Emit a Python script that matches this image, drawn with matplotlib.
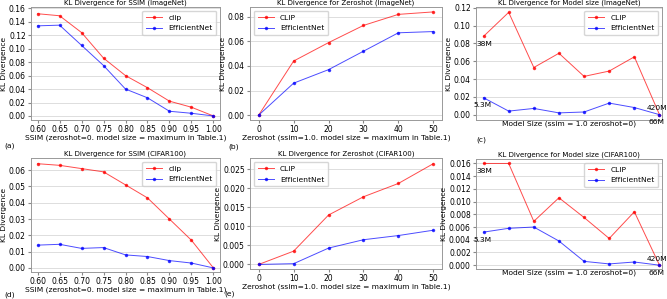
import matplotlib
matplotlib.use("Agg")
import matplotlib.pyplot as plt

# data
ssim = [0.60, 0.65, 0.70, 0.75, 0.80, 0.85, 0.90, 0.95, 1.00]
zeroshot = [0, 10, 20, 30, 40, 50]
model_idx = list(range(8))

ssim_in_clip = [0.152, 0.149, 0.124, 0.086, 0.060, 0.042, 0.022, 0.013, 0.000]
ssim_in_eff = [0.134, 0.135, 0.105, 0.075, 0.040, 0.027, 0.007, 0.004, 0.000]

zs_in_clip = [0.000, 0.044, 0.059, 0.073, 0.082, 0.084]
zs_in_eff = [0.000, 0.026, 0.037, 0.052, 0.067, 0.068]

ms_in_clip = [0.088, 0.115, 0.053, 0.069, 0.043, 0.049, 0.065, 0.000]
ms_in_eff = [0.019, 0.004, 0.007, 0.002, 0.003, 0.013, 0.008, 0.000]

ssim_c_clip = [0.064, 0.063, 0.061, 0.059, 0.051, 0.043, 0.030, 0.017, 0.000]
ssim_c_eff = [0.014, 0.0145, 0.012, 0.0125, 0.008, 0.007, 0.0045, 0.003, 0.000]

zs_c_clip = [0.000, 0.0035, 0.013, 0.0178, 0.0213, 0.0265]
zs_c_eff = [0.000, 0.0002, 0.0043, 0.0065, 0.0076, 0.009]

ms_c_clip = [0.016, 0.016, 0.0069, 0.0106, 0.0075, 0.0042, 0.0084, 0.000]
ms_c_eff = [0.0052, 0.0058, 0.0060, 0.0038, 0.0006, 0.0002, 0.0005, 0.000]

W, H = 667, 299
FS = 5.4      # labels, legend
TFS = 5.0     # titles
KFS = 5.5     # tick labels
fig = plt.figure(figsize=(W / 100, H / 100), dpi=100)


def box(l, t, r, b):
    return [l / W, 1 - b / H, (r - l) / W, (b - t) / H]


def panel(rect, x, y1, y2, lab1, title, xlabel, yticks, xticks=None):
    ax = fig.add_axes(rect)
    ax.plot(x, y1, color="red", marker=".", ms=3, lw=0.7, alpha=0.7, label=lab1)
    ax.plot(x, y2, color="blue", marker=".", ms=3, lw=0.7, alpha=0.7, label="EfficientNet")
    ax.set_title(title, fontsize=TFS, pad=2)
    ax.set_xlabel(xlabel, fontsize=FS, labelpad=0.5)
    ax.set_ylabel("KL Divergence", fontsize=FS, labelpad=1.5)
    ax.set_yticks(yticks)
    if xticks is None:
        ax.set_xticks([])
    else:
        ax.set_xticks(xticks)
    ax.tick_params(labelsize=KFS, length=2.5, pad=1.2, color="#888888")
    ax.grid(axis="y", color="#dddddd", lw=0.7)
    ax.set_axisbelow(True)
    for s in ax.spines.values():
        s.set_color("#999999")
        s.set_linewidth(0.7)
    return ax


def legend(ax, loc):
    ax.legend(loc=loc, fontsize=FS, handlelength=2.2, borderpad=0.5, labelspacing=0.6)


def sizes(ax, clip, eff):
    ax.set_xlim(-0.3, 7.1)
    ax.annotate("38M", (0, clip[0]), xytext=(-5, -7), textcoords="offset points", fontsize=FS)
    ax.annotate("5.3M", (0, eff[0]), xytext=(-7, -7), textcoords="offset points", fontsize=FS)
    ax.annotate("420M", (7, clip[7]), xytext=(-9, 3), textcoords="offset points", fontsize=FS)
    ax.annotate("66M", (7, eff[7]), xytext=(-8, -7), textcoords="offset points", fontsize=FS)


ax = panel(box(31, 7, 220, 120), ssim, ssim_in_clip, ssim_in_eff, "clip",
           "KL Divergence for SSIM (ImageNet)",
           "SSIM (zeroshot=0. model size = maximum in Table.1)",
           [0, 0.02, 0.04, 0.06, 0.08, 0.10, 0.12, 0.14, 0.16], ssim)
ax.set_ylim(-0.006, 0.162)
ax.set_xlim(0.585, 1.015)
ax.set_xticklabels([f"{v:.2f}" for v in ssim])
legend(ax, "upper right")

ax = panel(box(250, 7, 442, 120), zeroshot, zs_in_clip, zs_in_eff, "CLIP",
           "KL Divergence for Zeroshot (ImageNet)",
           "Zeroshot (ssim=1.0. model size = maximum in Table.1)",
           [0, 0.02, 0.04, 0.06, 0.08], zeroshot)
ax.set_ylim(-0.004, 0.088)
legend(ax, "upper left")

ax = panel(box(476, 7, 662, 120), model_idx, ms_in_clip, ms_in_eff, "CLIP",
           "KL Divergence for Model size (ImageNet)",
           "Model Size (ssim = 1.0 zeroshot=0)",
           [0, 0.02, 0.04, 0.06, 0.08, 0.10, 0.12])
ax.set_ylim(-0.006, 0.121)
legend(ax, "upper right")
sizes(ax, ms_in_clip, ms_in_eff)

ax = panel(box(31, 158, 220, 272), ssim, ssim_c_clip, ssim_c_eff, "clip",
           "KL Divergence for SSIM (CIFAR100)",
           "SSIM (zeroshot=0. model size = maximum in Table.1)",
           [0, 0.01, 0.02, 0.03, 0.04, 0.05, 0.06], ssim)
ax.set_ylim(-0.0025, 0.0675)
ax.set_xlim(0.585, 1.015)
ax.set_xticklabels([f"{v:.2f}" for v in ssim])
legend(ax, "upper right")

ax = panel(box(250, 158, 442, 269), zeroshot, zs_c_clip, zs_c_eff, "CLIP",
           "KL Divergence for Zeroshot (CIFAR100)",
           "Zeroshot (ssim=1.0. model size = maximum in Table.1)",
           [0, 0.005, 0.010, 0.015, 0.020, 0.025], zeroshot)
ax.set_ylim(-0.0012, 0.028)
ax.set_yticklabels(["0.000", "0.005", "0.010", "0.015", "0.020", "0.025"])
legend(ax, "upper left")

ax = panel(box(476, 159, 662, 269), model_idx, ms_c_clip, ms_c_eff, "CLIP",
           "KL Divergence for Model size (CIFAR100)",
           "Model Size (ssim = 1.0 zeroshot=0)",
           [0, 0.002, 0.004, 0.006, 0.008, 0.010, 0.012, 0.014, 0.016])
ax.set_ylim(-0.0006, 0.0167)
legend(ax, "upper right")
sizes(ax, ms_c_clip, ms_c_eff)

# sub-figure letters
for lab, px, py in [("(a)", 4, 146), ("(b)", 228, 147), ("(c)", 476, 140),
                    ("(d)", 4, 295), ("(e)", 224, 294)]:
    fig.text(px / W, 1 - py / H, lab, fontsize=FS, va="center")

fig.savefig("out.png", dpi=100)
